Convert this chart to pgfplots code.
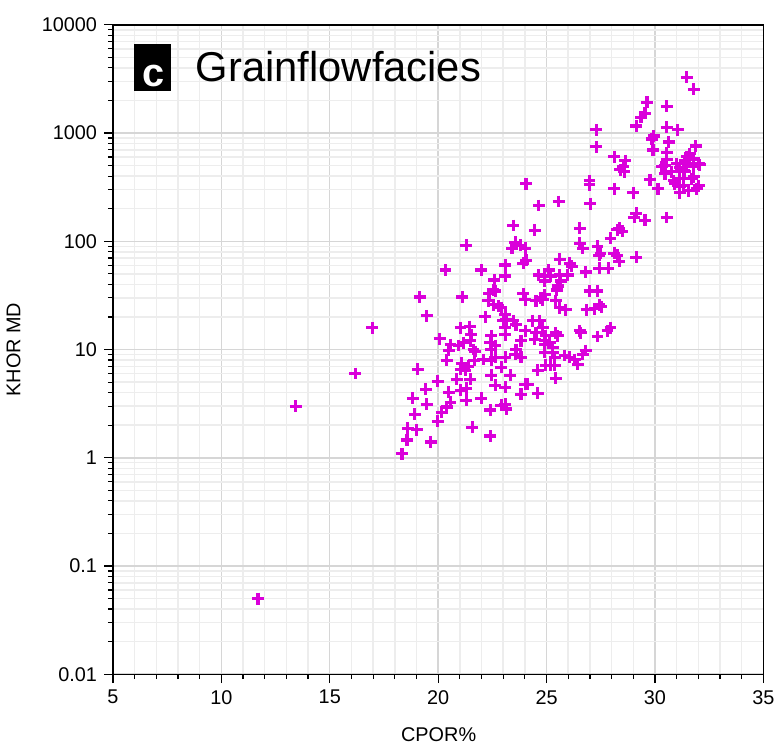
\documentclass[border=0pt]{standalone}
\usepackage{pgfplots}
\pgfplotsset{compat=1.18}
\usepackage{fontspec}
\setmainfont{Liberation Sans}
\definecolor{mag}{RGB}{218,0,218}
\begin{document}
\begin{tikzpicture}
\begin{axis}[
 name=ax,
 scale only axis, width=327.5pt, height=327pt,
 xmin=5, xmax=35, ymin=0.01, ymax=10000, ymode=log,
 xtick={5,10,15,20,25,30,35}, minor x tick num=4,
 ytick={0.01,0.1,1,10,100,1000,10000},
 yticklabels={0.01,0.1,1,10,100,1000,10000},
 minor ytick={0.02,0.03,0.04,0.05,0.06,0.07,0.08,0.09,0.2,0.3,0.4,0.5,0.6,0.7,0.8,0.9,2,3,4,5,6,7,8,9,20,30,40,50,60,70,80,90,200,300,400,500,600,700,800,900,2000,3000,4000,5000,6000,7000,8000,9000},
 grid=both,
 major grid style={draw=black!16, line width=0.75pt},
 minor grid style={draw=black!7, line width=0.75pt},
 tick align=outside, xtick pos=left, ytick pos=left,
 major tick length=4.5pt, minor tick length=2.5pt,
 every tick/.style={black, line width=0.6pt},
 axis line style={black, line width=0.7pt},
 ticklabel style={font=\fontsize{10}{12}\selectfont},
 /pgf/number format/assume math mode=true,
 xlabel={CPOR\%}, ylabel={KHOR MD},
 label style={font=\fontsize{10}{12}\selectfont},
 xlabel style={at={(axis description cs:0.5008,-0.093)}, anchor=center},
 ylabel style={at={(axis description cs:-0.1527,0.5)}, anchor=center},
]
\addplot[only marks, mark=+, mark size=3pt, mag, line width=1.6pt] table {
x y
11.69 0.050
13.43 3.0
16.18 6.0
16.96 15.9
31.47 3270
31.79 2540
29.63 1920
30.55 1770
29.54 1520
29.36 1400
29.13 1160
27.30 1070
30.55 1135
31.05 1070
29.95 938
29.86 881
30.64 826
27.30 745
29.91 698
31.88 760
30.55 656
28.13 603
28.63 553
28.54 488
28.40 458
28.59 439
30.55 565
30.46 498
30.32 488
31.01 520
31.15 478
31.33 448
31.47 603
31.61 642
31.79 577
32.02 520
31.47 520
31.38 439
31.79 488
32.07 508
30.46 421
30.78 439
30.87 363
31.15 379
29.77 371
26.98 363
26.98 334
30.92 341
31.15 320
31.33 327
31.79 394
31.70 379
32.02 327
30.14 306
28.13 306
29.00 282
31.56 294
31.15 282
31.93 306
24.05 341
31.38 553
24.64 214
25.56 233
27.02 223
29.13 181
29.04 166
29.54 156
30.55 166
23.46 140
24.46 126
26.53 132
28.27 128
28.36 132
28.50 124
27.95 107
21.30 91.9
23.55 98
23.41 86.3
23.78 91.9
24.01 86.3
26.53 95.9
26.67 86.3
27.35 90
27.44 74.5
27.49 77.6
28.13 77.6
28.27 74.5
28.36 65.6
29.13 71.3
20.34 54.2
21.99 54.2
23.09 60.3
23.09 47.8
23.92 62.8
24.05 67.0
25.61 68.4
26.07 62.8
26.16 59.0
26.80 52.0
27.44 56.5
27.85 56.5
24.64 48.8
24.92 47.8
25.10 54.2
24.92 43.0
25.19 47.8
25.61 48.8
25.65 43.0
25.52 38.6
25.97 48.8
22.59 43.9
22.54 35.5
19.15 30.6
21.12 30.6
22.36 32.7
22.63 34.8
22.31 28.2
22.54 25.9
22.77 25.3
22.91 24.3
23.92 32.7
24.01 28.8
24.51 28.2
24.74 30.0
24.92 32.0
24.83 28.8
25.47 35.5
25.42 28.2
25.61 24.3
25.89 23.3
26.98 34.8
27.35 34.8
26.85 23.3
27.21 23.8
27.44 25.9
27.53 24.8
19.47 20.5
22.18 20.1
23.09 20.9
23.14 18.8
23.00 18.5
23.46 18.5
23.59 17.0
24.37 18.5
24.69 18.5
24.83 15.9
23.09 15.9
23.09 13.7
24.01 14.9
23.82 12.1
24.51 14.3
24.46 12.4
24.97 13.4
24.92 12.1
25.42 14.3
25.52 13.4
26.53 14.9
26.57 14.3
27.35 13.2
27.81 14.9
27.95 15.9
21.03 15.9
21.45 16.3
21.53 13.7
21.49 12.1
20.07 12.6
22.45 13.4
22.40 11.6
22.63 10.9
22.45 10.0
21.63 10.0
21.72 9.59
23.59 10.0
23.55 9.0
23.82 8.45
24.92 11.1
25.15 11.6
25.28 10.4
24.92 9.39
25.28 9.39
25.37 8.45
25.83 8.81
26.07 8.45
26.30 8.09
26.44 7.28
26.67 9.0
26.80 9.8
22.08 8.09
22.45 7.93
22.63 8.45
23.09 8.45
20.57 11.1
20.94 10.9
21.17 11.6
20.48 9.79
21.67 7.93
20.39 7.93
21.08 7.45
21.03 6.56
21.40 6.98
21.26 6.41
19.06 6.56
22.91 6.84
24.97 7.13
25.19 7.13
25.37 7.13
24.60 6.41
19.98 5.08
20.85 5.31
21.49 5.31
22.45 5.77
23.32 5.77
22.63 4.68
23.09 4.48
24.01 4.77
24.14 4.77
25.42 5.42
19.43 4.30
20.48 4.03
21.03 4.21
21.30 4.39
21.30 3.40
21.99 3.55
23.82 3.86
24.60 3.94
18.83 3.55
19.47 3.13
20.57 3.26
20.39 2.94
20.16 2.64
18.92 2.53
22.40 2.76
22.91 3.06
23.09 3.13
23.14 2.82
19.98 2.18
21.58 1.92
18.60 1.88
19.01 1.81
18.56 1.46
19.66 1.40
22.40 1.59
18.33 1.09
};
\fill[black] (rel axis cs:0.0321,0.9709) rectangle (rel axis cs:0.0885,0.8976);
\node[anchor=base, inner sep=0pt, text=white, font=\fontsize{20}{24}\selectfont\bfseries] at (rel axis cs:0.0618,0.9052) {c};
\node[anchor=base west, inner sep=0pt, font=\fontsize{21}{25}\selectfont] at (rel axis cs:0.127,0.9128) {Grainflowfacies};
\end{axis}
\path ([xshift=-56pt,yshift=-35pt]ax.south west) rectangle ([xshift=7pt,yshift=12.5pt]ax.north east);
\end{tikzpicture}
\end{document}
